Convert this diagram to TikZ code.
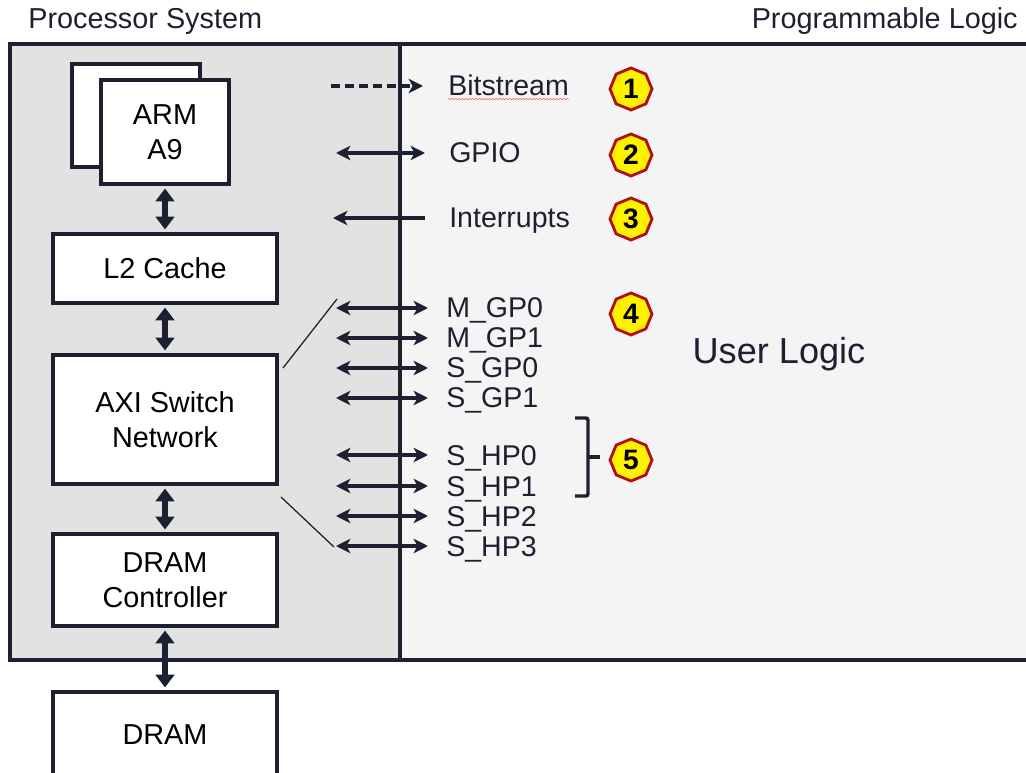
\documentclass[tikz,border=0pt]{standalone}
\usepackage{fontspec}
\setmainfont{Liberation Sans}
\usetikzlibrary{arrows.meta,shapes.geometric,decorations.pathmorphing}

\definecolor{ink}{HTML}{1C2030}
\definecolor{psgray}{HTML}{E2E2E2}
\definecolor{plgray}{HTML}{F4F4F4}
\definecolor{badgered}{HTML}{B01014}

\begin{document}
\begin{tikzpicture}[x=0.025cm,y=-0.025cm,
	block/.style={draw=ink,line width=3pt,fill=white,align=center,inner sep=0pt,
		minimum width=5.6cm,font=\fontsize{20.5}{24.8}\selectfont},
	vbus/.style={draw=ink,line width=4.4pt,shorten <=0.06cm,shorten >=0.06cm,
		{Triangle[width=0.46cm,length=0.32cm]}-{Triangle[width=0.46cm,length=0.32cm]}},
	port/.style={draw=ink,line width=2.8pt},
	tip/.tip={Stealth[length=0.36cm,width=0.36cm,inset=0.1cm]},
	portlabel/.style={anchor=base west,inner sep=0pt,text=ink,font=\fontsize{20.3}{24}\selectfont},
	badge/.style={regular polygon,regular polygon sides=8,shape border rotate=22.5,
		minimum size=1.05cm,inner sep=0pt,fill=yellow,draw=badgered,line width=2pt,
		font=\fontsize{20}{24}\selectfont\bfseries},
	title/.style={anchor=base west,inner sep=0pt,text=ink,font=\fontsize{20.5}{24}\selectfont}]
	\useasboundingbox (0,0) rectangle (1026,773);

	% Frame: processor side and logic side
	\fill[psgray] (10,44) rectangle (400,660);
	\fill[plgray] (400,44) rectangle (1040,660);
	\draw[ink,line width=2.5pt] (1040,44) -- (10,44) -- (10,660) -- (1040,660);
	\draw[ink,line width=2.5pt] (400,44) -- (400,660);

	\node[title] (pstitle) at (28,29) {Processor System};
	\node[title,anchor=base east] (pltitle) at (1018,29) {Programmable Logic};

	% Blocks of the processor system
	\node[block,minimum width=3.2cm,minimum height=2.575cm] (armback) at (136,115.5) {};
	\node[block,minimum width=3.2cm,minimum height=2.6cm] (arm) at (165,132) {ARM\\A9};
	\node[block,minimum height=1.725cm] (l2) at (165,268.5) {L2 Cache};
	\node[block,minimum height=3.225cm] (axi) at (165,419.5) {AXI Switch\\Network};
	\node[block,minimum height=2.3cm] (ctrl) at (165,580) {DRAM\\Controller};
	\node[block,minimum height=2.15cm] (dram) at (165,735) {DRAM};

	\foreach \a/\b in {arm/l2,l2/axi,axi/ctrl,ctrl/dram}
		\draw[vbus] (\a) -- (\b);

	% Single signals
	\coordinate (bits-ps) at (331,86);  \coordinate (bits-pl) at (423,86);
	\coordinate (gpio-ps) at (336,153); \coordinate (gpio-pl) at (425,153);
	\coordinate (irq-ps) at (333,218);  \coordinate (irq-pl) at (425,218);
	\draw[port,dashed,dash pattern=on 6.5pt off 3.5pt,-tip] (bits-ps) -- (bits-pl);
	\draw[port,tip-tip] (gpio-ps) -- (gpio-pl);
	\draw[port,-tip] (irq-pl) -- (irq-ps);
	\node[portlabel] (bits) at (448,96) {Bitstream};
	\node[portlabel] (gpio) at (449,163) {GPIO};
	\node[portlabel] (irq) at (449,228) {Interrupts};
	\draw[red!65,line width=0.4pt,decorate,decoration={snake,amplitude=0.5pt,segment length=2.4pt}]
		([yshift=-2.2pt]bits.base west) -- ([yshift=-2.2pt]bits.base east);

	% AXI ports
	\foreach \y/\n/\t in {308/mgp0/M\_GP0,338/mgp1/M\_GP1,368/sgp0/S\_GP0,398/sgp1/S\_GP1,
		455/shp0/S\_HP0,486/shp1/S\_HP1,516/shp2/S\_HP2,546/shp3/S\_HP3}{
		\coordinate (\n-ps) at (336,\y);
		\coordinate (\n-pl) at (428,\y);
		\draw[port,tip-tip] (\n-ps) -- (\n-pl);
		\node[portlabel] (\n) at (446,\y+10) {\t};
	}

	% fan-out lines from the switch
	\coordinate (fanA) at (283,368); \coordinate (fanB) at (337,299);
	\coordinate (fanC) at (281,497); \coordinate (fanD) at (334,547);
	\draw[ink,line width=0.9pt] (fanA) -- (fanB);
	\draw[ink,line width=0.9pt] (fanC) -- (fanD);

	% Bracket round the HP ports
	\draw[ink,line width=2.4pt,rounded corners=1.5pt] (575,418) -- (588,418) -- (588,496) -- (575,496);
	\draw[ink,line width=2.4pt] (588,457) -- (600,457);

	% Numbered badges
	\foreach \y/\k in {89/1,155/2,219/3,314/4,460/5}
		\node[badge] (badge\k) at (631,\y) {\k};

	\node[text=ink,inner sep=0pt,font=\fontsize{25.7}{30}\selectfont] (user) at (779,354) {User Logic};
\end{tikzpicture}
\end{document}
